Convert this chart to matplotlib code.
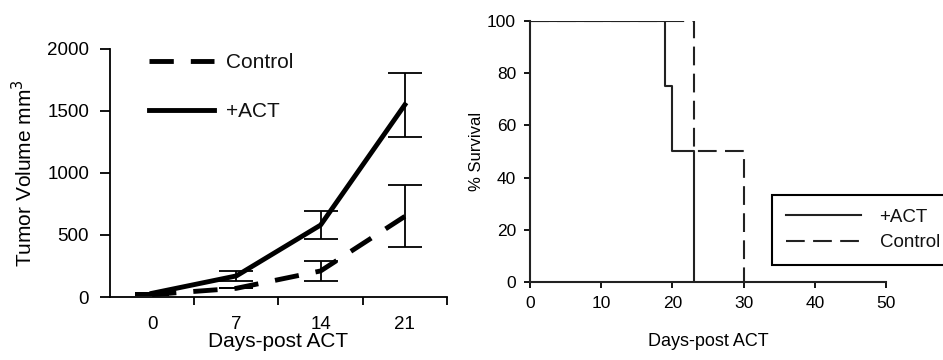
import matplotlib
matplotlib.use("Agg")
import matplotlib.pyplot as plt
from matplotlib.lines import Line2D

# tumour growth (left panel)
days = ["0", "7", "14", "21"]
act_mean = [30, 170, 580, 1550]
act_err = [0, 40, 115, 258]
ctrl_mean = [20, 70, 210, 650]
ctrl_err = [0, 0, 80, 250]

# survival (right panel)
act_surv_x = [0, 19, 20, 23]
act_surv_y = [100, 75, 50, 0]
ctrl_surv_x = [0, 23, 30]
ctrl_surv_y = [100, 50, 0]

plt.rcParams["font.family"] = ["Liberation Sans", "DejaVu Sans"]
plt.rcParams["text.color"] = "#111111"

fig = plt.figure(figsize=(9.43, 3.6), dpi=100)

# ---- left panel
ax = fig.add_axes([0.1166, 0.175, 0.3574, 0.689])
x = range(len(days))
ctrl_ls = (0, (5, 3.5))
ax.errorbar(x, ctrl_mean, yerr=ctrl_err, color="black", lw=3.5, ls=ctrl_ls,
            elinewidth=1.3, capsize=12, capthick=1.3)
ax.errorbar(x, act_mean, yerr=act_err, color="black", lw=3.5,
            elinewidth=1.3, capsize=12, capthick=1.3)
ax.set_xlim(-0.5, 3.5)
ax.set_ylim(0, 2000)
ax.set_yticks([0, 500, 1000, 1500, 2000])
ax.set_xticks([0, 1, 2, 3])
ax.set_xticklabels(days)
ax.set_xticks([0.5, 1.5, 2.5, 3.5], minor=True)
ax.tick_params(axis="x", which="major", length=0, pad=14, labelsize=13.5)
ax.tick_params(axis="x", which="minor", length=6, width=1.3, direction="out")
ax.tick_params(axis="y", length=7, width=1.3, pad=8, labelsize=13.5)
for s in ["top", "right"]:
    ax.spines[s].set_visible(False)
for s in ["left", "bottom"]:
    ax.spines[s].set_linewidth(1.3)
ax.set_ylabel("Tumor Volume mm$^3$", fontsize=15, labelpad=8)
ax.set_xlabel("Days-post ACT", fontsize=15, labelpad=-1)
handles = [Line2D([], [], color="black", lw=3.5, ls=ctrl_ls),
           Line2D([], [], color="black", lw=3.5)]
ax.legend(handles, ["Control", "+ACT"], loc="upper left",
          bbox_to_anchor=(0.06, 1.06), frameon=False,
          fontsize=15, handlelength=3.1, handletextpad=0.6, labelspacing=1.45)

# ---- right panel
ax2 = fig.add_axes([0.562, 0.2167, 0.3776, 0.725])
ax2.plot(act_surv_x, act_surv_y, drawstyle="steps-post", color="#222222", lw=1.5,
         label="+ACT")
ax2.plot(ctrl_surv_x, ctrl_surv_y, drawstyle="steps-post", color="#222222", lw=1.5,
         ls=(0, (9, 4)), label="Control")
ax2.set_xlim(0, 50)
ax2.set_ylim(0, 100)
ax2.set_xticks(range(0, 51, 10))
ax2.set_yticks(range(0, 101, 20))
for s in ["top", "right"]:
    ax2.spines[s].set_visible(False)
for s in ["left", "bottom"]:
    ax2.spines[s].set_linewidth(1.5)
    ax2.spines[s].set_color("#222222")
ax2.tick_params(length=4, width=1.3, labelsize=12.5, pad=6)
ax2.set_ylabel("% Survival", fontsize=12, labelpad=2)
ax2.set_xlabel("Days-post ACT", fontsize=13, labelpad=16)
leg2 = ax2.legend(loc="upper left", bbox_to_anchor=(0.679, 0.335), fontsize=13.5,
                  fancybox=False, edgecolor="black", framealpha=1,
                  handlelength=4.0, handletextpad=1.0, borderpad=0.75,
                  labelspacing=0.45, borderaxespad=0)
leg2.get_frame().set_linewidth(1.5)

fig.savefig("out.png", dpi=100)
